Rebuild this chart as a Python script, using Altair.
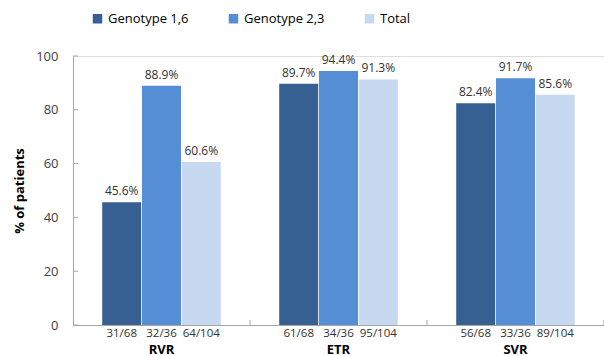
import altair as alt
import pandas as pd

groups = ["RVR", "ETR", "SVR"]
series = ["Genotype 1,6", "Genotype 2,3", "Total"]
values = {
    "Genotype 1,6": [45.6, 89.7, 82.4],
    "Genotype 2,3": [88.9, 94.4, 91.7],
    "Total": [60.6, 91.3, 85.6],
}
ratios = {
    "Genotype 1,6": ["31/68", "61/68", "56/68"],
    "Genotype 2,3": ["32/36", "34/36", "33/36"],
    "Total": ["64/104", "95/104", "89/104"],
}
y_ticks = [0, 20, 40, 60, 80, 100]
colors = ["#366092", "#558ED5", "#C6D9F1"]

rows = []
for s in series:
    for i, g in enumerate(groups):
        v = values[s][i]
        rows.append({"group": g, "series": s, "value": v,
                     "label": f"{v:.1f}%", "ratio": ratios[s][i]})
df = pd.DataFrame(rows)
gdf = pd.DataFrame({"group": groups})
tdf = pd.DataFrame({"tick": y_ticks})

FONT = "Open Sans"
W, H = 531, 269
STEP = W / len(groups)
AXC = "#A6A6A6"

xscale = alt.Scale(domain=groups, paddingInner=0.33, paddingOuter=0.165)
yscale = alt.Scale(domain=[0, 100])
x = alt.X("group:N", sort=groups, title=None, scale=xscale,
          axis=alt.Axis(labelAngle=0, labelFontWeight="bold", labelFontSize=13,
                        labelColor="#000000", labelFont=FONT, ticks=False,
                        domainColor=AXC, labelPadding=18))
xo = alt.XOffset("series:N", sort=series, scale=alt.Scale(paddingInner=0.02))

base = alt.Chart(df).encode(x=x, xOffset=xo)

bars = base.mark_bar().encode(
    y=alt.Y("value:Q", scale=yscale, title="% of patients",
            axis=alt.Axis(values=y_ticks, grid=False, ticks=False,
                          labelFontSize=13, labelColor="#404040", labelFont=FONT,
                          labelPadding=15,
                          titleFont=FONT, titleFontSize=13, titleFontWeight="bold",
                          titleColor="#000000", titlePadding=9,
                          domainColor=AXC)),
    color=alt.Color("series:N", sort=series,
                    scale=alt.Scale(domain=series, range=colors),
                    legend=alt.Legend(title=None, orient="none", direction="horizontal",
                                      legendX=18, legendY=-44, symbolType="square",
                                      symbolSize=90, symbolStrokeWidth=0,
                                      labelFontSize=13, labelFont=FONT,
                                      labelColor="#000000", columnPadding=38,
                                      labelOffset=4)),
)

labels = base.mark_text(baseline="bottom", dy=-4, fontSize=12, font=FONT,
                        color="#333333").encode(
    y=alt.Y("value:Q"), text="label:N")

ratio_text = base.mark_text(baseline="middle", fontSize=11.5, font=FONT,
                            color="#333333").encode(
    y=alt.value(H + 9), text="ratio:N")

seps = alt.Chart(gdf).mark_rule(color=AXC, xOffset=STEP / 2).encode(
    x=alt.X("group:N", sort=groups, scale=xscale),
    y=alt.value(H - 5), y2=alt.value(H))

yt = alt.Chart(tdf).mark_rule(color=AXC).encode(
    y=alt.Y("tick:Q", scale=yscale),
    x=alt.value(0), x2=alt.value(5))

chart = alt.layer(bars, labels, ratio_text, seps, yt).properties(
    width=W, height=H,
    autosize=alt.AutoSizeParams(type="none"),
    padding={"left": 73, "top": 56, "right": 0, "bottom": 31},
).configure_view(stroke=None).configure(font=FONT)

chart.save("out.html", embed_options={"renderer": "svg", "actions": False})
